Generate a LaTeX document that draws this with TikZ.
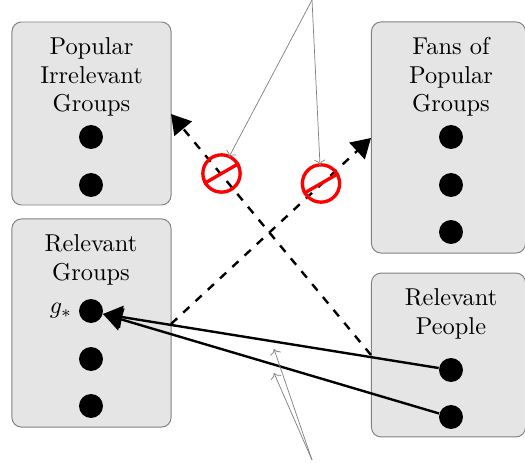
\documentclass[tikz,border=0pt]{standalone}
\usetikzlibrary{arrows.meta}
\begin{document}
\begin{tikzpicture}[x=0.418pt, y=-0.418pt,
    group/.style={rectangle, draw=black!50, fill=black!10, rounded corners=4pt, inner sep=0pt, line width=0.4pt},
    title/.style={align=center, font=\fontsize{10.2}{12}\selectfont, inner sep=0pt},
    member/.style={circle, fill=black, minimum size=10pt, inner sep=0pt},
    forbid/.style={circle, draw=red, line width=1.4pt, minimum size=15.6pt, inner sep=0pt},
    link/.style={-{Triangle[length=8pt, width=9.4pt]}, line width=1pt},
    gap/.style={dash pattern=on 3.5pt off 3.5pt},
    note/.style={-{To[length=2.2pt]}, draw=black!50, line width=0.3pt}
]
    \useasboundingbox (0,0) rectangle (525,463);
    % Left groups
    \node[group, minimum width=66.5pt, minimum height=76.5pt] (popular) at (91.5,113.5) {};
    \node[group, minimum width=66.5pt, minimum height=87pt] (relevant) at (91.5,323) {};
    \node[title] (popularT) at (91.5,77) {Popular\\Irrelevant\\Groups};
    \node[title] (relevantT) at (91,260) {Relevant\\Groups};
    \node[member] (p1) at (91,137) {};
    \node[member] (p2) at (91,185) {};
    \node[member] (g1) at (91,311) {};
    \node[member] (g2) at (91,359) {};
    \node[member] (g3) at (91,406) {};
    \node[inner sep=0pt] (gstar) at (61,311) {$g_*$};

    % Right groups
    \node[group, minimum width=64.4pt, minimum height=96.6pt] (fans) at (448.5,137.5) {};
    \node[group, minimum width=64.4pt, minimum height=68.5pt] (people) at (448.5,355) {};
    \node[title] (fansT) at (451,77) {Fans of\\Popular\\Groups};
    \node[title] (peopleT) at (451,314) {Relevant\\People};
    \node[member] (f1) at (451,137) {};
    \node[member] (f2) at (451,185) {};
    \node[member] (f3) at (451,232) {};
    \node[member] (r1) at (451,370) {};
    \node[member] (r2) at (451,417) {};

    % Dashed links
    \coordinate (crossA) at (371,355);
    \coordinate (crossB) at (171,114);
    \coordinate (crossC) at (171,324);
    \coordinate (crossD) at (371,138);
    \draw[link, gap] (crossA) -- (crossB);
    \draw[link, gap] (crossC) -- (crossD);

    % Solid links
    \coordinate (tipG) at (103,314);
    \draw[link] (r1) -- (tipG);
    \draw[link] (r2) -- (tipG);

    % Forbidden marks
    \node[forbid] (noA) at (221.5,173.5) {};
    \node[forbid] (noB) at (321,183.5) {};
    \draw[red, line width=1.4pt] (noA.210) -- (noA.30);
    \draw[red, line width=1.4pt] (noB.210) -- (noB.30);

    % Notes
    \coordinate (noteTop) at (312,0);
    \coordinate (noteBot) at (312,460);
    \coordinate (noteA) at (229,157);
    \coordinate (noteB) at (320,165);
    \coordinate (noteC) at (274,349);
    \coordinate (noteD) at (274,373);
    \draw[note] (noteTop) -- (noteA);
    \draw[note] (noteTop) -- (noteB);
    \draw[note] (noteBot) -- (noteC);
    \draw[note] (noteBot) -- (noteD);
\end{tikzpicture}
\end{document}
